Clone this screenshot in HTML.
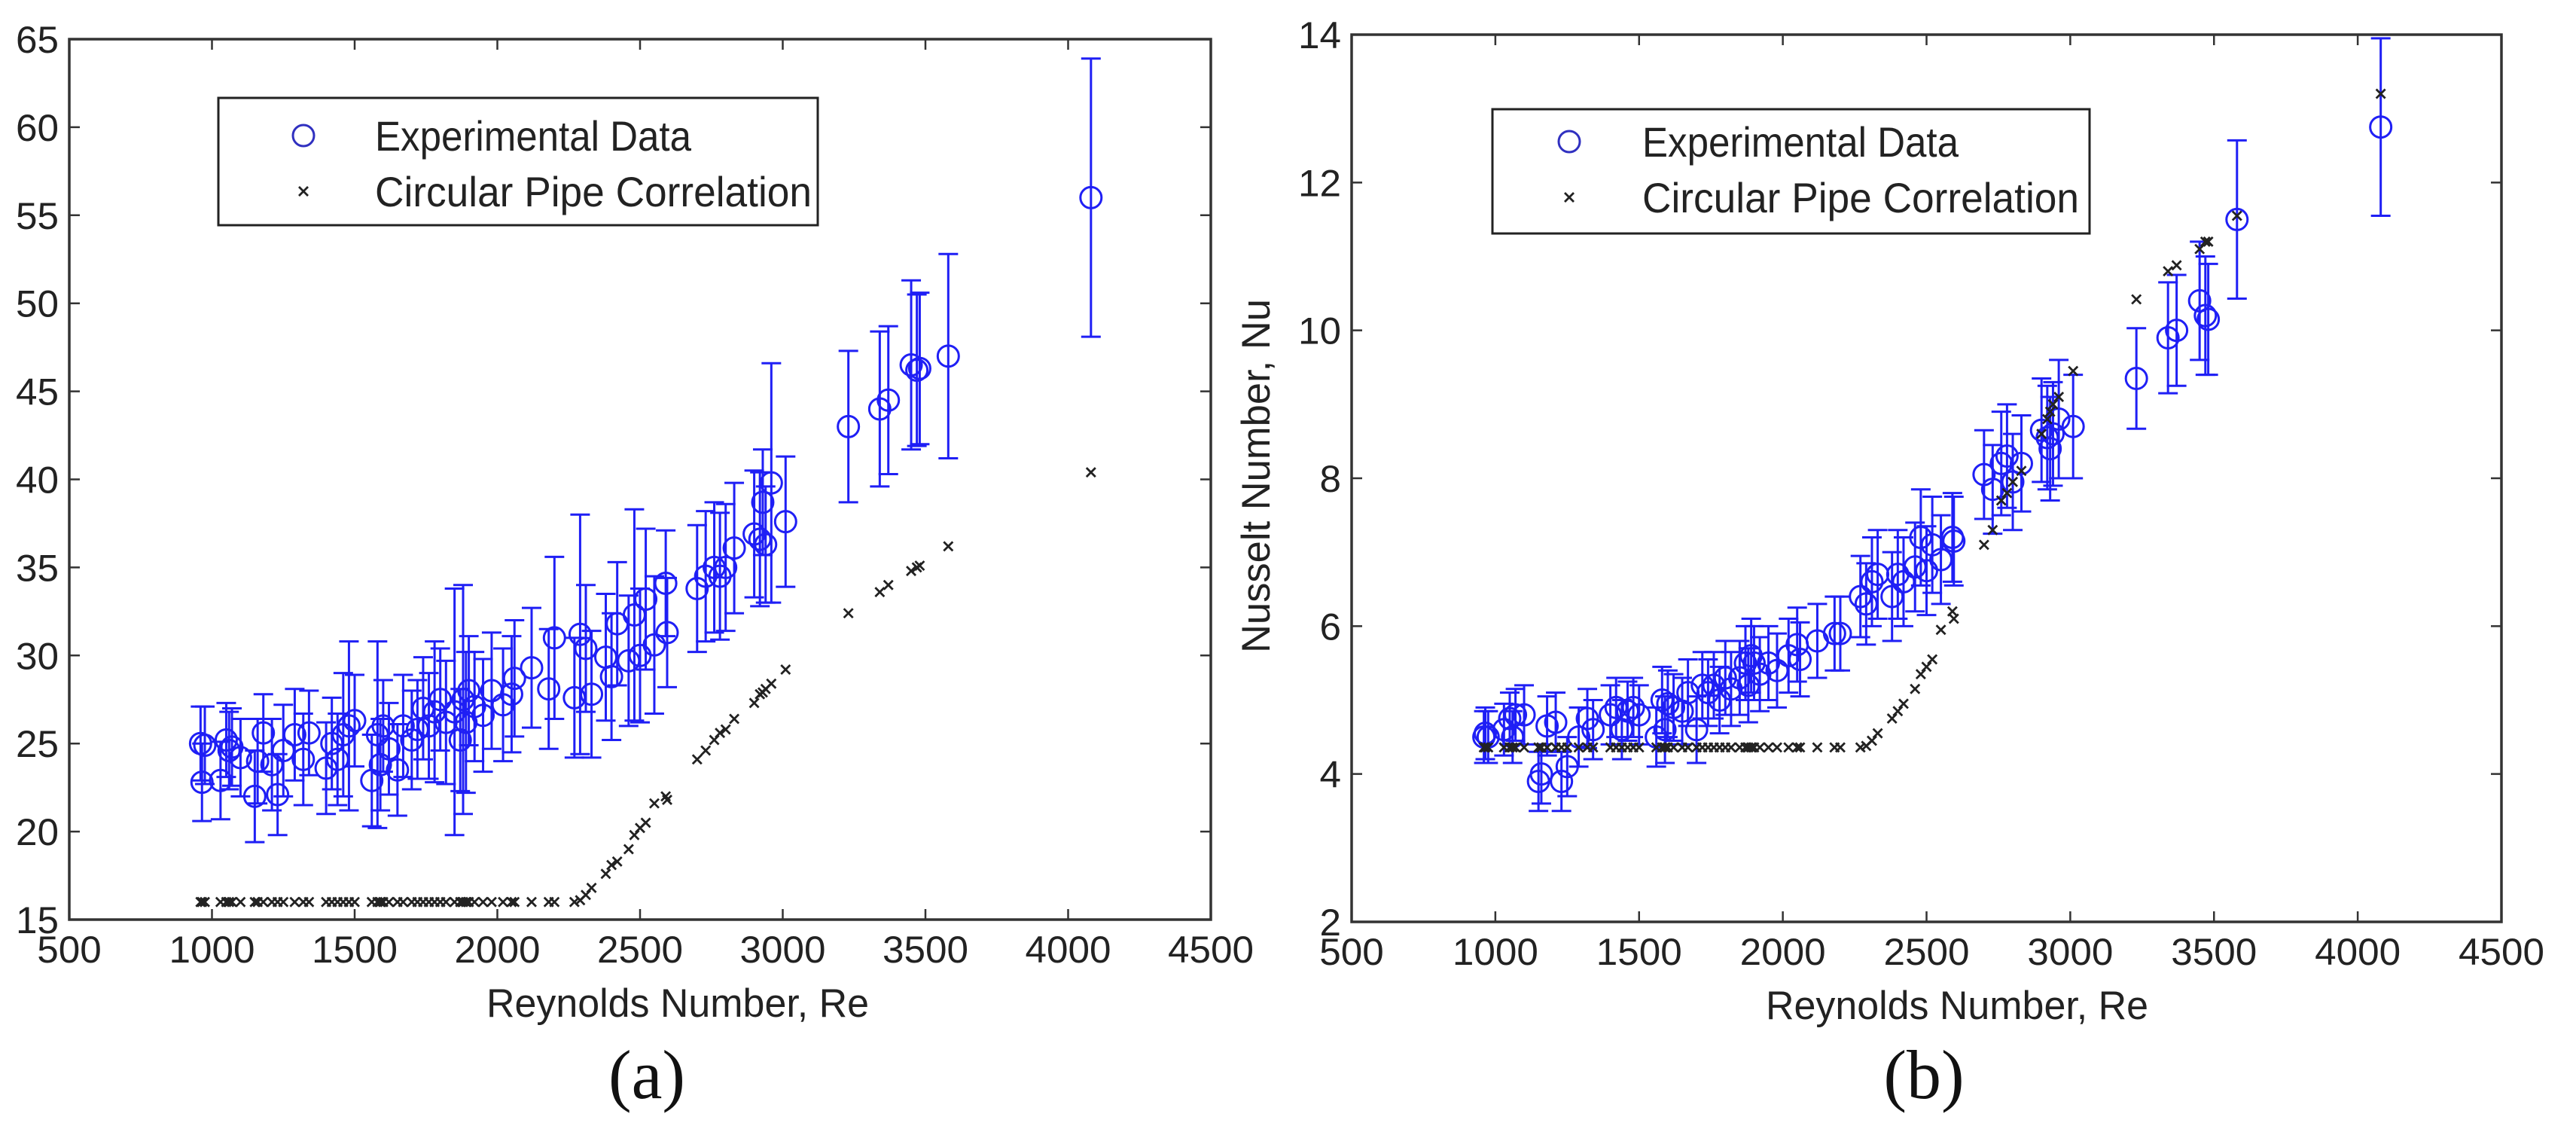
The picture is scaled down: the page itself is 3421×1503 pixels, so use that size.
<!DOCTYPE html>
<html><head><meta charset="utf-8"><style>
html,body{margin:0;padding:0;background:#fff;}
svg{display:block;font-family:"Liberation Sans",sans-serif;}
</style></head><body>
<svg id="fig" width="3421" height="1503" viewBox="0 0 3421 1503" xmlns="http://www.w3.org/2000/svg"></svg>
<script>
const re = [960,965,975,1030,1050,1060,1070,1100,1150,1160,1180,1210,1230,1250,1290,1320,1340,1400,1420,1440,1460,1480,1500,1560,1580,1590,1600,1620,1650,1670,1700,1720,1740,1760,1780,1800,1820,1850,1870,1880,1890,1900,1920,1950,1980,2020,2050,2060,2120,2180,2200,2270,2290,2310,2330,2380,2400,2420,2460,2480,2500,2520,2550,2590,2595,2700,2730,2760,2780,2800,2830,2900,2920,2930,2940,2960,3010,3230,3340,3370,3450,3470,3480,3580,4080];
const nuA = [25.0,22.8,24.9,22.9,25.2,24.6,24.8,24.2,22.0,24.0,25.6,23.8,22.1,24.6,25.5,24.1,25.6,23.6,25.0,24.1,25.5,26.0,26.3,22.9,25.5,23.8,26.0,24.7,23.5,26.0,25.2,25.8,27.0,26.0,26.8,27.5,26.2,26.8,25.2,27.5,26.2,28.0,27.1,26.6,28.0,27.2,27.8,28.7,29.3,28.1,31.0,27.6,31.2,30.4,27.8,29.9,28.8,31.8,29.7,32.3,30.0,33.2,30.6,34.1,31.3,33.8,34.5,35.0,34.5,35.0,36.1,36.9,36.6,38.7,36.3,39.8,37.6,43.0,44.0,44.5,46.5,46.2,46.3,47.0,56.0];
const errA = [2.1,2.2,2.2,2.2,2.1,2.2,2.2,2.2,2.6,2.4,2.2,2.6,2.3,2.6,2.6,2.6,2.4,2.6,2.6,2.6,3.5,4.8,2.6,2.6,5.3,2.6,2.6,2.6,2.6,2.9,2.8,2.8,2.9,3.0,4.0,2.9,3.5,7.0,2.9,6.5,4.0,3.1,3.1,3.2,3.3,3.2,3.3,3.3,3.4,3.4,4.6,3.4,6.8,3.6,3.6,3.6,3.6,3.5,3.7,6.0,3.8,4.0,3.9,3.0,3.1,3.6,3.7,3.7,3.6,3.6,3.7,3.6,3.8,3.0,3.3,6.8,3.7,4.3,4.4,4.2,4.8,4.3,4.3,5.8,7.9];
const corrA = [16,16,16,16,16,16,16,16,16,16,16,16,16,16,16,16,16,16,16,16,16,16,16,16,16,16,16,16,16,16,16,16,16,16,16,16,16,16,16,16,16,16,16,16,16,16,16,16,16,16,16,16.0,16.1,16.4,16.8,17.6,18.1,18.3,19.0,19.8,20.2,20.5,21.6,22.0,21.8,24.1,24.6,25.2,25.6,25.8,26.4,27.3,27.8,27.9,28.1,28.4,29.2,32.4,33.6,34.0,34.8,35.0,35.1,36.2,40.4];
const nuB = [4.5,4.55,4.5,4.6,4.75,4.5,4.8,4.8,3.9,4.0,4.65,4.7,3.9,4.1,4.5,4.75,4.6,4.8,4.9,4.6,4.85,4.9,4.8,4.5,5.0,4.6,4.95,4.9,4.85,5.1,4.6,5.2,5.1,5.2,5.0,5.3,5.15,5.3,5.5,5.2,5.6,5.5,5.35,5.5,5.4,5.6,5.75,5.55,5.8,5.9,5.9,6.4,6.3,6.6,6.7,6.4,6.7,6.6,6.8,7.2,6.75,7.1,6.9,7.2,7.15,8.05,7.85,8.2,8.3,7.95,8.2,8.65,8.55,8.4,8.6,8.8,8.7,9.35,9.9,10.0,10.4,10.2,10.15,11.5,12.75];
const errB = [0.35,0.35,0.35,0.35,0.35,0.35,0.35,0.4,0.4,0.4,0.4,0.4,0.4,0.4,0.4,0.4,0.4,0.4,0.4,0.4,0.4,0.4,0.4,0.4,0.45,0.45,0.45,0.45,0.45,0.45,0.45,0.45,0.45,0.45,0.45,0.5,0.5,0.5,0.5,0.5,0.5,0.5,0.5,0.5,0.5,0.5,0.5,0.5,0.5,0.5,0.5,0.55,0.55,0.6,0.6,0.6,0.6,0.6,0.6,0.65,0.6,0.65,0.6,0.6,0.6,0.6,0.6,0.7,0.7,0.65,0.65,0.7,0.7,0.7,0.7,0.8,0.7,0.68,0.75,0.75,0.8,0.8,0.75,1.07,1.2];
const corrB = [4.36,4.36,4.36,4.36,4.36,4.36,4.36,4.36,4.36,4.36,4.36,4.36,4.36,4.36,4.36,4.36,4.36,4.36,4.36,4.36,4.36,4.36,4.36,4.36,4.36,4.36,4.36,4.36,4.36,4.36,4.36,4.36,4.36,4.36,4.36,4.36,4.36,4.36,4.36,4.36,4.36,4.36,4.36,4.36,4.36,4.36,4.36,4.36,4.36,4.36,4.36,4.36,4.38,4.45,4.55,4.75,4.85,4.95,5.15,5.35,5.45,5.55,5.95,6.2,6.1,7.1,7.3,7.7,7.8,7.95,8.1,8.6,8.8,8.9,9.0,9.1,9.45,10.42,10.8,10.88,11.1,11.2,11.2,11.55,13.2];
const xTicks = [500,1000,1500,2000,2500,3000,3500,4000,4500];
const yTicksA = [15,20,25,30,35,40,45,50,55,60,65];
const yTicksB = [2,4,6,8,10,12,14];

const NS = "http://www.w3.org/2000/svg";
const svg = document.getElementById('fig');
function mk(tag, attrs, parent){
  const e = document.createElementNS(NS, tag);
  for (const k in attrs) e.setAttribute(k, attrs[k]);
  (parent||svg).appendChild(e);
  return e;
}
const BLUE = "#1f1ff5";

function panel(cfg){
  const g = mk('g', {});
  
  
  const L=cfg.left,R=cfg.right,T=cfg.top,B=cfg.bottom;
  const sx = v => L + (v-500)/(4000)*(R-L);
  const sy = v => B - (v-cfg.ymin)/(cfg.ymax-cfg.ymin)*(B-T);
  const cid = 'clip-'+cfg.name;
  const defs = mk('defs', {}, g);
  const cp = mk('clipPath', {id: cid}, defs);
  mk('rect', {x:L-20, y:T, width:R-L+40, height:B-T}, cp);
  const dg = mk('g', {'clip-path':'url(#'+cid+')'}, g);
  
  
  for (let i=0;i<re.length;i++){
    const x = sx(re[i]), y1 = sy(cfg.nu[i]-cfg.err[i]), y2 = sy(cfg.nu[i]+cfg.err[i]);
    const eb = mk('path', {d:`M${x},${y1}V${y2}M${x-13},${y1}H${x+13}M${x-13},${y2}H${x+13}`, stroke:BLUE, 'stroke-width':3, fill:'none'}, dg);
    
    
  }
  for (let i=0;i<re.length;i++){
    const c = mk('circle', {cx:sx(re[i]), cy:sy(cfg.nu[i]), r:14, stroke:BLUE, 'stroke-width':3, fill:'none'}, dg);
    
    
  }
  for (let i=0;i<re.length;i++){
    const x = sx(re[i]), y = sy(cfg.corr[i]);
    const m = mk('path', {d:`M${x-6},${y-6}L${x+6},${y+6}M${x-6},${y+6}L${x+6},${y-6}`, stroke:'#222', 'stroke-width':2.8}, dg);
    
    
  }
  const box = mk('rect', {x:L, y:T, width:R-L, height:B-T, fill:'none', stroke:'#333', 'stroke-width':3.5}, g);
  
  
  xTicks.forEach(v=>{
    const x = sx(v);
    mk('path', {d:`M${x},${B}v-14M${x},${T}v14`, stroke:'#333', 'stroke-width':2.5}, g);
    const s = String(v);
    const t = mk('text', {x:x, y:B+57, 'font-size':50, 'text-anchor':'middle', fill:'#222', textLength:s.length*28.5, lengthAdjust:'spacingAndGlyphs'}, g);
    t.textContent = s;
    
    
  });
  cfg.yTicks.forEach(v=>{
    const y = sy(v);
    mk('path', {d:`M${L},${y}h14M${R},${y}h-14`, stroke:'#333', 'stroke-width':2.5}, g);
    const s = String(v);
    const t = mk('text', {x:L-14, y:y+18, 'font-size':50, 'text-anchor':'end', fill:'#222', textLength:s.length*28.5, lengthAdjust:'spacingAndGlyphs'}, g);
    t.textContent = s;
    
    
  });
  const xl = mk('text', {x:cfg.xlabelX, y:B+129, 'font-size':53, 'text-anchor':'middle', fill:'#222', textLength:508, lengthAdjust:'spacingAndGlyphs'}, g);
  xl.textContent = 'Reynolds Number, Re';
  
  
  const pl = mk('text', {x:cfg.tagX, y:1458, 'font-size':92, 'text-anchor':'middle', fill:'#111', 'font-family':'Liberation Serif, serif'}, g);
  pl.textContent = cfg.tag;
  
  
  const lg = mk('g', {}, g);
  
  
  const lb = cfg.legend;
  mk('rect', {x:lb.x, y:lb.y, width:lb.w, height:lb.h, fill:'#fff', stroke:'#222', 'stroke-width':3}, lg);
  const e1 = mk('g', {}, lg);
  
  
  mk('circle', {cx:lb.mx, cy:lb.r1, r:14, stroke:'#3030c0', 'stroke-width':3, fill:'none'}, e1);
  const t1 = mk('text', {x:lb.tx, y:lb.r1+20, 'font-size':56, fill:'#222', textLength:420, lengthAdjust:'spacingAndGlyphs'}, e1);
  t1.textContent = 'Experimental Data';
  const e2 = mk('g', {}, lg);
  
  
  mk('path', {d:`M${lb.mx-6},${lb.r2-6}l12,12M${lb.mx-6},${lb.r2+6}l12,-12`, stroke:'#222', 'stroke-width':2.8}, e2);
  const t2 = mk('text', {x:lb.tx, y:lb.r2+20, 'font-size':56, fill:'#222', textLength:580, lengthAdjust:'spacingAndGlyphs'}, e2);
  t2.textContent = 'Circular Pipe Correlation';
  return g;
}
panel({name:'chart-a', left:92, right:1608, top:52, bottom:1221, ymin:15, ymax:65, nu:nuA, err:errA, corr:corrA, yTicks:yTicksA, xlabelX:900, tagX:859, tag:'(a)',
  legend:{x:290, y:130, w:796, h:169, mx:403, tx:498, r1:180, r2:254}});
panel({name:'chart-b', left:1795, right:3322, top:46, bottom:1224, ymin:2, ymax:14, nu:nuB, err:errB, corr:corrB, yTicks:yTicksB, xlabelX:2599, tagX:2555, tag:'(b)',
  legend:{x:1982, y:145, w:793, h:165, mx:2084, tx:2181, r1:188, r2:262}});
const yl = mk('text', {x:0, y:0, 'font-size':53, 'text-anchor':'middle', fill:'#222', transform:'translate(1686,632) rotate(-90)', textLength:470, lengthAdjust:'spacingAndGlyphs'});
yl.textContent = 'Nusselt Number, Nu';


</script>
</body></html>
